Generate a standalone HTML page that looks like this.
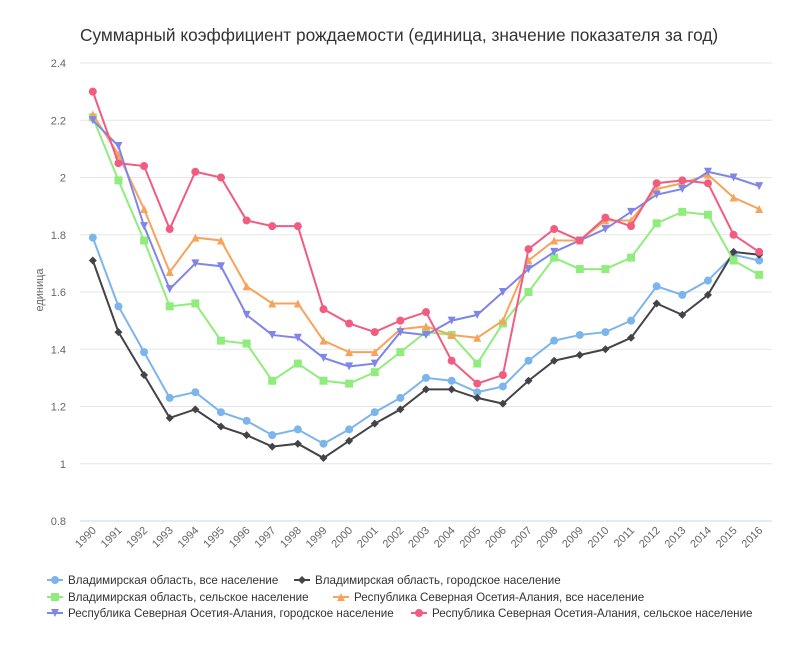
<!DOCTYPE html>
<html><head><meta charset="utf-8"><style>
body{margin:0;background:#fff;font-family:"Liberation Sans",sans-serif}
svg text{font-family:"Liberation Sans",sans-serif}
</style></head><body>
<svg id="c" width="800" height="641">
<text x="80" y="41" font-size="17.3" fill="#333">Суммарный коэффициент рождаемости (единица, значение показателя за год)</text>
<text transform="translate(43,290) rotate(-90)" text-anchor="middle" font-size="11" fill="#666">единица</text>
<g id="grid"></g><g id="series"></g><g id="legend"></g>
</svg>
<script>
const years=[1990,1991,1992,1993,1994,1995,1996,1997,1998,1999,2000,2001,2002,2003,2004,2005,2006,2007,2008,2009,2010,2011,2012,2013,2014,2015,2016];
const yTicks=[0.8,1,1.2,1.4,1.6,1.8,2,2.2,2.4];
const vladAll=[1.79,1.55,1.39,1.23,1.25,1.18,1.15,1.10,1.12,1.07,1.12,1.18,1.23,1.30,1.29,1.25,1.27,1.36,1.43,1.45,1.46,1.50,1.62,1.59,1.64,1.73,1.71];
const vladUrban=[1.71,1.46,1.31,1.16,1.19,1.13,1.10,1.06,1.07,1.02,1.08,1.14,1.19,1.26,1.26,1.23,1.21,1.29,1.36,1.38,1.40,1.44,1.56,1.52,1.59,1.74,1.73];
const vladRural=[2.21,1.99,1.78,1.55,1.56,1.43,1.42,1.29,1.35,1.29,1.28,1.32,1.39,1.46,1.45,1.35,1.49,1.60,1.72,1.68,1.68,1.72,1.84,1.88,1.87,1.71,1.66];
const osAll=[2.22,2.08,1.89,1.67,1.79,1.78,1.62,1.56,1.56,1.43,1.39,1.39,1.47,1.48,1.45,1.44,1.50,1.71,1.78,1.78,1.85,1.85,1.96,1.98,2.01,1.93,1.89];
const osUrban=[2.20,2.11,1.83,1.61,1.70,1.69,1.52,1.45,1.44,1.37,1.34,1.35,1.46,1.45,1.50,1.52,1.60,1.68,1.74,1.78,1.82,1.88,1.94,1.96,2.02,2.00,1.97];
const osRural=[2.30,2.05,2.04,1.82,2.02,2.00,1.85,1.83,1.83,1.54,1.49,1.46,1.50,1.53,1.36,1.28,1.31,1.75,1.82,1.78,1.86,1.83,1.98,1.99,1.98,1.80,1.74];
const names=["Владимирская область, все население","Владимирская область, городское население","Владимирская область, сельское население","Республика Северная Осетия-Алания, все население","Республика Северная Осетия-Алания, городское население","Республика Северная Осетия-Алания, сельское население"];
const NS="http://www.w3.org/2000/svg";
const X0=80,X1=772,Y0=521,Y1=63;
const xs=i=>X0+(X1-X0)/years.length*(i+0.5);
const ys=v=>Y0-(v-0.8)/(2.4-0.8)*(Y0-Y1);
function mk(t,a,p){const e=document.createElementNS(NS,t);for(const k in a)e.setAttribute(k,a[k]);p.appendChild(e);return e;}
const grid=document.getElementById('grid');
yTicks.forEach(v=>{
 const l=mk('line',{x1:X0,x2:X1,y1:ys(v),y2:ys(v),stroke:v===0.8?'#ccd6eb':'#e6e6e6'},grid);
 
 
 const t=mk('text',{x:66,y:ys(v)+4,'text-anchor':'end','font-size':'11',fill:'#666'},grid);
 t.textContent=String(v);
 
 
});
years.forEach((y,i)=>{
 const t=mk('text',{transform:`translate(${xs(i)+4},${531}) rotate(-45)`,'text-anchor':'end','font-size':'11',fill:'#666'},grid);
 t.textContent=y;
 
 
});
const series=[vladAll,vladUrban,vladRural,osAll,osUrban,osRural];
const colors=["#7cb5ec","#434348","#90ed7d","#f7a35c","#8085e9","#f15c80"];
const shapes=["circle","diamond","square","triangle","tri-down","circle"];
function marker(s,x,y,c,p){
 let e;
 if(s==="circle")e=mk('circle',{cx:x,cy:y,r:4,fill:c},p);
 else if(s==="square")e=mk('rect',{x:x-4,y:y-4,width:8,height:8,fill:c},p);
 else if(s==="diamond")e=mk('path',{d:`M${x} ${y-4}L${x+4} ${y}L${x} ${y+4}L${x-4} ${y}Z`,fill:c},p);
 else if(s==="triangle")e=mk('path',{d:`M${x} ${y-4}L${x+4} ${y+4}L${x-4} ${y+4}Z`,fill:c},p);
 else e=mk('path',{d:`M${x-4} ${y-4}L${x+4} ${y-4}L${x} ${y+4}Z`,fill:c},p);
 return e;
}
const sg=document.getElementById('series');
series.forEach((arr,k)=>{
 const g=mk('g',{},sg);
 
 
 const pl=mk('polyline',{points:arr.map((v,i)=>xs(i)+','+ys(v)).join(' '),fill:'none',stroke:colors[k],'stroke-width':2},g);
 
 
 arr.forEach((v,i)=>{
  const m=marker(shapes[k],xs(i),ys(v),colors[k],g);
  
  
 });
});
const lg=document.getElementById('legend');
const pos=[[55,580],[302,580],[55,597],[341,597],[55,613],[419,613]];
names.forEach((n,k)=>{
 const g=mk('g',{},lg);
 
 
 const [x,y]=pos[k];
 mk('line',{x1:x-8,x2:x+8,y1:y,y2:y,stroke:colors[k],'stroke-width':2},g);
 marker(shapes[k],x,y,colors[k],g);
 const t=mk('text',{x:x+13,y:y+4,'font-size':'11.6',fill:'#333'},g);
 t.textContent=n;
});
</script>
</body></html>
